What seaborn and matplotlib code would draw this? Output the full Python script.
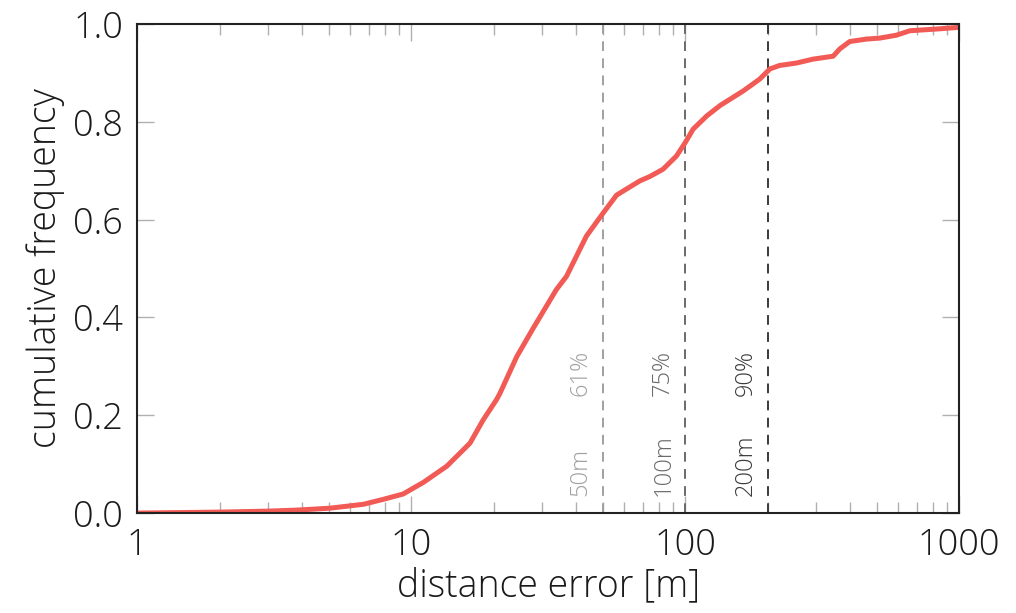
import numpy as np
import pandas as pd
import matplotlib
matplotlib.use("Agg")
import matplotlib.pyplot as plt
import seaborn as sns

# curve (distance error in m, cumulative share)
err = [1.0, 2.0, 3.0, 3.8, 5.05, 6.7, 7.9, 9.35, 11.1, 13.5, 16.4, 18.3, 20.5,
       21.1, 24.3, 27.9, 33.9, 36.9, 43.6, 50.0, 56.2, 68.3, 74.3, 83.1, 93.0,
       100, 107, 120, 134, 163, 187, 204, 221, 255, 293, 347, 367, 399, 459,
       514, 591, 661, 851, 1000]
freq = [0.0, 0.002, 0.004, 0.006, 0.010, 0.018, 0.028, 0.039, 0.063, 0.096,
        0.143, 0.19, 0.232, 0.245, 0.320, 0.378, 0.457, 0.484, 0.566, 0.612,
        0.650, 0.679, 0.688, 0.703, 0.730, 0.757, 0.785, 0.812, 0.833, 0.863,
        0.887, 0.908, 0.915, 0.920, 0.928, 0.934, 0.949, 0.964, 0.969, 0.971,
        0.977, 0.986, 0.990, 0.993]

marks = [50, 100, 200]
mark_share = ["61%", "75%", "90%"]
mark_colors = ["#a0a0a0", "#6a6a6a", "#3a3a3a"]

df = pd.DataFrame({"err": err, "freq": freq})

sns.set_style("ticks")
plt.rcParams["font.family"] = ["Open Sans", "DejaVu Sans"]
plt.rcParams["font.weight"] = 300
plt.rcParams["text.color"] = "#1a1a1a"
plt.rcParams["axes.labelcolor"] = "#1a1a1a"
plt.rcParams["xtick.labelcolor"] = "#1a1a1a"
plt.rcParams["ytick.labelcolor"] = "#1a1a1a"

fig, ax = plt.subplots(figsize=(10.16, 6.13), dpi=100)
fig.subplots_adjust(left=0.135, right=0.944, top=0.961, bottom=0.163)

sns.lineplot(data=df, x="err", y="freq", color="#f25a55", linewidth=3.6, ax=ax)

for m, s, c in zip(marks, mark_share, mark_colors):
    ax.axvline(m, color=c, linestyle=(0, (5, 3.8)), linewidth=1.4, zorder=1)
    ax.text(m * 0.92, 0.035, f"{m}m", rotation=90, ha="right", va="bottom",
            color=c, fontsize=17, fontweight=300)
    ax.text(m * 0.92, 0.24, s, rotation=90, ha="right", va="bottom",
            color=c, fontsize=17, fontweight=300)

ax.set_xscale("log")
ax.set_xlim(1, 1000)
ax.set_ylim(0, 1)
ax.set_xticks([1, 10, 100, 1000])
ax.set_xticklabels(["1", "10", "100", "1000"])
ax.set_yticks([0, 0.2, 0.4, 0.6, 0.8, 1.0])
ax.set_yticklabels(["0.0", "0.2", "0.4", "0.6", "0.8", "1.0"])

ax.tick_params(which="both", direction="in", color="#b0b0b0", top=True, right=True,
               labelsize=26, pad=10)
ax.tick_params(which="major", length=12, width=1)
ax.tick_params(which="minor", length=8, width=1)
for sp in ax.spines.values():
    sp.set_color("#222222")
    sp.set_linewidth(1.5)

ax.set_xlabel("distance error [m]", fontsize=27, fontweight=300, labelpad=2)
ax.set_ylabel("cumulative frequency", fontsize=27, fontweight=300, labelpad=6)

fig.savefig("out.png", dpi=100)
